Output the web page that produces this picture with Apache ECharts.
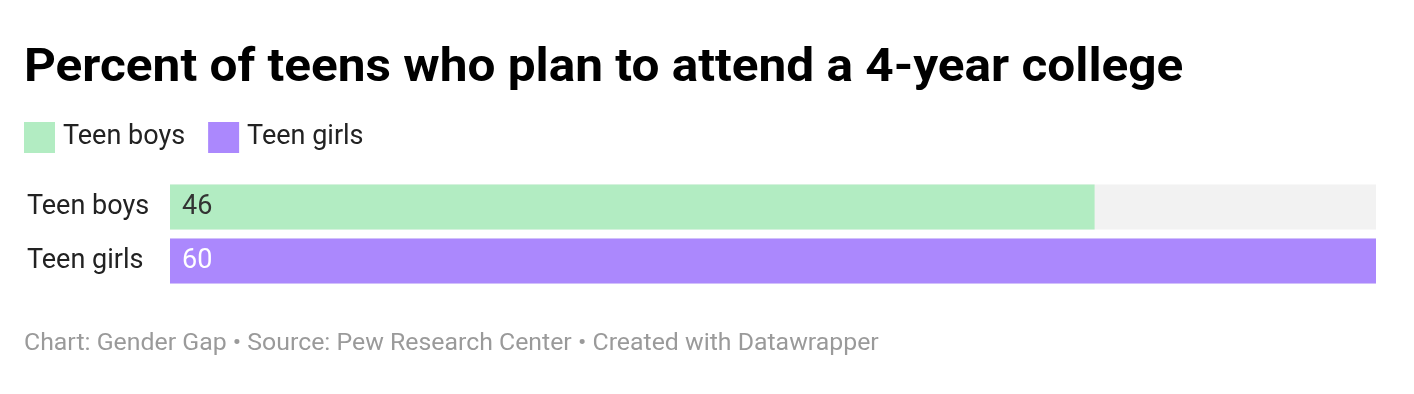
<!DOCTYPE html>
<html>
<head>
<meta charset="utf-8">
<script src="https://cdn.jsdelivr.net/npm/echarts@6/dist/echarts.min.js"></script>
<style>
html,body{margin:0;padding:0;background:#fff;}
#chart{width:1414px;height:394px;}
</style>
</head>
<body>
<div id="chart"></div>
<script>
const categories = ['Teen boys', 'Teen girls'];
const seriesNames = ['Teen boys', 'Teen girls'];
const boysValues = [46, '-'];
const girlsValues = ['-', 60];
const xMax = 60;
const titleText = 'Percent of teens who plan to attend a 4-year college';
const footerText = 'Chart: Gender Gap \u2022 Source: Pew Research Center \u2022 Created with Datawrapper';

const chart = echarts.init(document.getElementById('chart'), null, {renderer: 'canvas'});
const font = 'Roboto';
chart.setOption({
  backgroundColor: '#ffffff',
  animation: false,
  graphic: [
    {type: 'text', x: 24, y: 69, scaleX: 1.077, silent: true,
     style: {text: titleText, font: 'bold 46px Roboto', fill: '#000', verticalAlign: 'middle', align: 'left'}},
    {type: 'text', x: 24, y: 344, scaleX: 1.08, silent: true,
     style: {text: footerText, font: '23px Roboto', fill: '#9a9a9a', verticalAlign: 'middle', align: 'left'}}
  ],
  legend: {
    data: seriesNames, left: 19, top: 117, icon: 'rect',
    itemWidth: 31, itemHeight: 31, itemGap: 23,
    textStyle: {fontFamily: font, fontSize: 27, color: '#222', padding: [0,0,0,3]}
  },
  grid: {left: 170, right: 38, top: 180, height: 108, containLabel: false},
  xAxis: {type: 'value', min: 0, max: xMax, show: false},
  yAxis: {
    type: 'category', data: categories, inverse: true,
    axisLine: {show: false}, axisTick: {show: false},
    axisLabel: {align: 'left', margin: 143, fontFamily: font, fontSize: 27, color: '#222'}
  },
  series: [
    {name: seriesNames[0], type: 'bar', data: boysValues, barWidth: 45, barGap: '-100%',
     itemStyle: {color: '#b2ecc2'},
     showBackground: true, backgroundStyle: {color: '#f2f2f2'},
     label: {show: true, position: 'insideLeft', distance: 12, fontFamily: font, fontSize: 27, color: '#333'}},
    {name: seriesNames[1], type: 'bar', data: girlsValues, barWidth: 45, barGap: '-100%',
     itemStyle: {color: '#ab88fd'},
     label: {show: true, position: 'insideLeft', distance: 12, fontFamily: font, fontSize: 27, color: '#fff'}}
  ]
});
</script>
</body>
</html>
